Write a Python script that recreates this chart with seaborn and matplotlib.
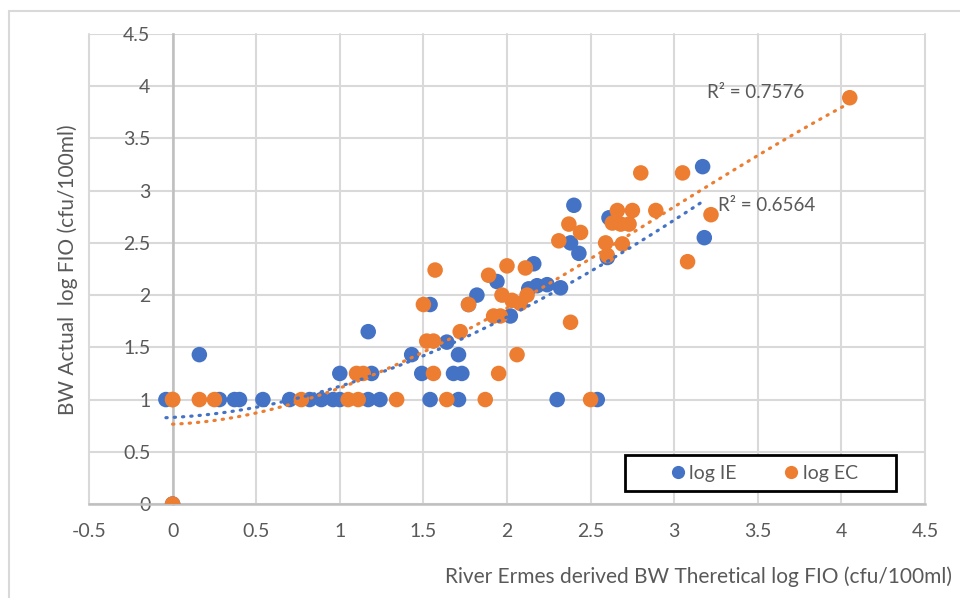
import numpy as np
import pandas as pd
import matplotlib
matplotlib.use("Agg")
import matplotlib.pyplot as plt
import seaborn as sns
from matplotlib.patches import Rectangle
from matplotlib.lines import Line2D

# log IE: theoretical (derived) vs actual bathing-water log FIO
ie_x = [0.00, -0.04, 0.16, 0.28, 0.37, 0.40, 0.54, 0.70, 0.82, 0.89, 0.96,
        1.00, 1.00, 1.17, 1.17, 1.19, 1.24, 1.43, 1.49, 1.54, 1.54, 1.64,
        1.68, 1.71, 1.71, 1.73, 1.77, 1.82, 1.94, 2.02, 2.13, 2.18, 2.24,
        2.32, 2.16, 2.30, 2.38, 2.40, 2.43, 2.54, 2.60, 2.61, 3.18, 3.17]
ie_y = [0.00, 1.00, 1.43, 1.00, 1.00, 1.00, 1.00, 1.00, 1.00, 1.00, 1.00,
        1.00, 1.25, 1.65, 1.00, 1.25, 1.00, 1.43, 1.25, 1.00, 1.91, 1.55,
        1.25, 1.43, 1.00, 1.25, 1.91, 2.00, 2.13, 1.80, 2.06, 2.09, 2.10,
        2.07, 2.30, 1.00, 2.50, 2.86, 2.40, 1.00, 2.36, 2.74, 2.55, 3.23]

# log EC: theoretical (derived) vs actual bathing-water log FIO
ec_x = [0.00, 0.00, 0.00, 0.16, 0.25, 0.77, 1.05, 1.11, 1.10, 1.14, 1.34,
        1.50, 1.52, 1.56, 1.56, 1.57, 1.64, 1.72, 1.77, 1.87, 1.89, 1.92,
        1.96, 1.95, 1.97, 2.00, 2.03, 2.06, 2.08, 2.11, 2.12, 2.31, 2.37,
        2.38, 2.44, 2.50, 2.59, 2.60, 2.63, 2.66, 2.68, 2.69, 2.73, 2.75,
        2.80, 2.89, 3.05, 3.08, 3.22, 4.05]
ec_y = [1.00, 1.00, 0.00, 1.00, 1.00, 1.00, 1.00, 1.00, 1.25, 1.25, 1.00,
        1.91, 1.56, 1.56, 1.25, 2.24, 1.00, 1.65, 1.91, 1.00, 2.19, 1.80,
        1.80, 1.25, 2.00, 2.28, 1.95, 1.43, 1.92, 2.26, 2.00, 2.52, 2.68,
        1.74, 2.60, 1.00, 2.50, 2.38, 2.69, 2.81, 2.68, 2.49, 2.68, 2.81,
        3.17, 2.81, 3.17, 2.32, 2.77, 3.89]

series_names = ["log IE", "log EC"]
series_colors = ["#4472C4", "#ED7D31"]
r2_labels = ["R\u00b2 = 0.6564", "R\u00b2 = 0.7576"]
trend_order = 3
x_ticks = [-0.5, 0, 0.5, 1, 1.5, 2, 2.5, 3, 3.5, 4, 4.5]
y_ticks = [0, 0.5, 1, 1.5, 2, 2.5, 3, 3.5, 4, 4.5]
x_tick_labels = ["-0.5", "0", "0.5", "1", "1.5", "2", "2.5", "3", "3.5", "4", "4.5"]
y_tick_labels = ["0", "0.5", "1", "1.5", "2", "2.5", "3", "3.5", "4", "4.5"]
x_label = "River Ermes derived BW Theretical log FIO (cfu/100ml)"
y_label = "BW Actual  log FIO (cfu/100ml)"

TEXT = "#595959"
GRID = "#D9D9D9"
AXIS = "#BFBFBF"

sns.set_theme(style="white")
plt.rcParams["font.family"] = ["Lato", "DejaVu Sans"]

W, H = 960, 598
fig = plt.figure(figsize=(W / 100, H / 100), dpi=100)
fig.patch.set_facecolor("white")

# outer chart border
fig.add_artist(Rectangle((9 / W, -0.1), 2.0, 1 - 11 / H + 0.1,
                         transform=fig.transFigure, fill=False,
                         edgecolor=GRID, linewidth=1.5, zorder=0))

ax = fig.add_axes([89 / W, 1 - 504 / H, (925 - 89) / W, (504 - 34) / H])

df = pd.DataFrame({
    "x": ie_x + ec_x,
    "y": ie_y + ec_y,
    "series": [series_names[0]] * len(ie_x) + [series_names[1]] * len(ec_x),
})
palette = dict(zip(series_names, series_colors))

sns.scatterplot(data=df, x="x", y="y", hue="series", palette=palette,
                s=125, edgecolor="none", linewidth=0, alpha=1,
                legend=False, ax=ax, zorder=3)

# polynomial trendlines (round dots)
for xs, ys, col in [(ie_x, ie_y, series_colors[0]), (ec_x, ec_y, series_colors[1])]:
    sns.regplot(x=np.array(xs), y=np.array(ys), order=trend_order, ci=None,
                scatter=False, truncate=True, color=col, ax=ax,
                line_kws=dict(linestyle=(0, (0.4, 2.2)), linewidth=2.3,
                              dash_capstyle="round", zorder=4))

ax.set_xlim(-0.5, 4.5)
ax.set_ylim(0, 4.5)
ax.set_xticks(x_ticks, x_tick_labels)
ax.set_yticks(y_ticks, y_tick_labels)
ax.set_xlabel("")
ax.set_ylabel("")
ax.grid(True, color=GRID, linewidth=1.5)
ax.set_axisbelow(True)
for gl in ax.get_xgridlines() + ax.get_ygridlines():
    gl.set_clip_on(False)

for side in ["top", "right"]:
    ax.spines[side].set_visible(False)
ax.spines["left"].set_position(("data", 0))
ax.spines["left"].set_color(AXIS)
ax.spines["left"].set_linewidth(1.8)
ax.spines["bottom"].set_color(AXIS)
ax.spines["bottom"].set_linewidth(1.8)
ax.tick_params(axis="both", length=0, labelcolor=TEXT, labelsize=14)
ax.tick_params(axis="y", pad=16)
ax.tick_params(axis="x", pad=14)

# R² annotations
ax.text(3.262, 2.86, r2_labels[0], color=TEXT, fontsize=13.5,
        ha="left", va="center", zorder=5)
ax.text(3.196, 3.94, r2_labels[1], color=TEXT, fontsize=13.5,
        ha="left", va="center", zorder=5)

# axis titles
fig.text(68 / W, 1 - 270 / H, y_label, rotation=90, ha="center", va="center",
         color=TEXT, fontsize=15)
fig.text(952 / W, 1 - 577 / H, x_label, ha="right", va="center",
         color=TEXT, fontsize=15)

# legend box
fig.add_artist(Rectangle((625 / W, 1 - 491 / H), 271 / W, 36 / H,
                         transform=fig.transFigure, facecolor="white",
                         edgecolor="black", linewidth=2, zorder=5))
handles = [Line2D([], [], linestyle="none", marker="o", markersize=9.5,
                  markerfacecolor=c, markeredgecolor="none")
           for c in series_colors]
leg = fig.legend(handles, series_names, loc="center",
                 bbox_to_anchor=(762 / W, 1 - 473 / H),
                 bbox_transform=fig.transFigure, ncol=2, frameon=False,
                 fontsize=14, handletextpad=0.0, columnspacing=2.2,
                 handlelength=1.2, labelcolor=TEXT)
leg.set_zorder(6)

fig.savefig("out.png", dpi=100)
